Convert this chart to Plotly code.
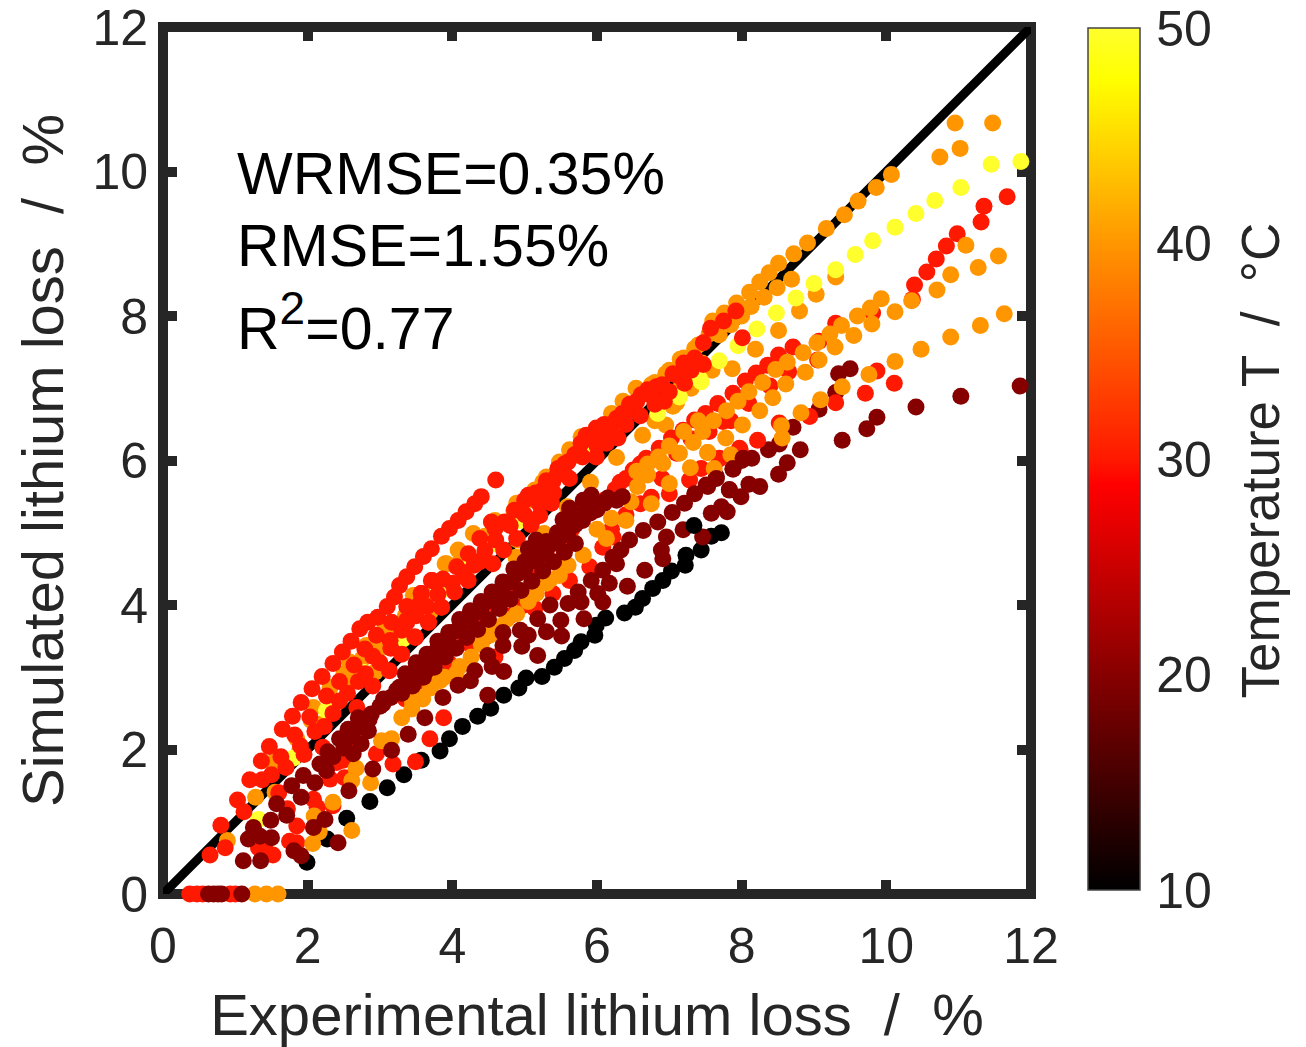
import plotly.graph_objects as go

diag_x = [0, 12]
diag_y = [0, 12]

black_pts = [(7.72,5.00),(7.58,4.95),(7.44,4.76),(7.23,4.69),(7.22,4.55),(7.03,4.47),(6.91,4.34),(6.77,4.23),(6.63,4.09),(6.53,3.97),(6.38,3.89),(6.12,3.82),(5.99,3.72),(5.97,3.58),(5.78,3.49),(5.69,3.37),(5.55,3.26),(5.41,3.14),(5.24,3.01),(5.02,2.99),(4.92,2.85),(4.71,2.75),(4.53,2.57),(4.35,2.46),(4.14,2.32),(3.96,2.15),(3.83,1.98),(3.57,1.85),(3.33,1.65),(3.10,1.47),(2.86,1.28),(2.54,1.05),(2.27,0.76),(1.99,0.44)]
black_extra = [(7.34,5.10)]

orange_top = [(10.95,10.67),(11.47,10.67),(11.02,10.32),(10.74,10.20),(10.07,9.96),(9.86,9.78),(9.61,9.59),(9.42,9.40),(9.17,9.21),(8.91,9.01),(8.72,8.86),(8.51,8.73),(8.38,8.60),(8.25,8.47),(8.11,8.33),(7.93,8.18),(7.76,8.04),(7.60,7.93),(8.69,8.51),(8.49,8.39),(8.31,8.26),(8.13,8.13),(8.0,8.0),(7.85,7.88),(7.69,7.74),(9.30,8.54),(9.03,8.30),(8.80,8.07),(8.51,7.80),(8.19,7.54),(7.87,7.27),(7.59,7.25),(6.54,7.0),(6.36,6.82),(6.20,6.65),(5.78,6.33),(5.62,6.15),(5.48,5.98),(5.30,5.77),(5.14,5.59),(4.89,5.41),(4.59,5.17),(4.29,4.99),(4.08,4.76),(3.92,4.57),(3.46,4.13),(7.40,7.60),(7.20,7.42),(7.0,7.25),(6.8,7.08),(6.27,6.04),(5.91,5.70),(5.59,5.36),(5.27,4.99),(4.88,4.66),(6.63,6.35),(6.95,6.49),(7.3,7.0),(7.1,6.8),(4.90,4.90),(3.90,4.57),(3.48,4.13),(3.69,3.90),(3.07,3.72),(2.81,3.44),(2.95,3.32),(2.93,3.07),(2.58,3.21),(2.61,2.95),(2.31,2.86),(2.08,2.58),(2.17,2.35),(1.89,1.98),(1.52,1.82),(1.55,1.41),(1.28,1.34),(0.89,0.74),(3.27,3.56),
(7.55,7.75),(7.35,7.55),(7.15,7.4),(6.95,7.2),(6.75,7.05),(6.6,6.9),(6.4,6.72),(6.2,6.55),(6.0,6.4),(5.85,6.25),(5.65,6.05),(5.45,5.85),(5.25,5.7),(5.05,5.45),(4.85,5.3),(4.65,5.12),(4.45,4.95),(4.2,4.7),(4.05,4.55),(3.8,4.3),(3.6,4.15),(3.35,3.85),(3.15,3.65),(2.95,3.45),(2.75,3.25),(2.5,3.05),(2.3,2.75),(2.05,2.4),(1.85,2.15),(1.65,1.85),(7.45,7.35),(7.15,7.0),(7.05,6.75),(6.8,6.55)]

yellow_pts = [(11.86,10.14),(11.45,10.10),(11.03,9.78),(10.67,9.60),(10.41,9.42),(10.12,9.23),(9.81,9.04),(9.57,8.85),(9.30,8.64),(9.0,8.45),(8.75,8.25),(8.48,8.04),(8.21,7.82),(7.95,7.59),(7.69,7.38),(7.42,7.13),(7.44,7.09),(7.14,6.88),(6.84,6.65),(5.83,6.12),(5.23,5.45),(4.93,5.17),(4.59,4.85),(4.24,4.53),(3.89,4.22),(3.54,3.86),(3.32,3.53),(2.77,3.07),(2.26,2.54),(1.80,1.88),(1.32,1.03)]

red_top = [(4.60,5.73),(4.40,5.50),(4.31,5.40),(4.19,5.29),(4.08,5.17),(3.96,5.06),(3.85,4.95),(3.71,4.78),(3.60,4.67),(3.48,4.53),(3.37,4.39),(3.27,4.27),(3.20,4.11),(3.10,3.98),(2.97,3.83),(2.83,3.76),(2.72,3.67),(2.60,3.50),(2.48,3.35),(2.35,3.19),(2.20,3.01),(2.06,2.84),(1.91,2.65),(1.79,2.46),(1.65,2.28),(1.47,2.04),(1.36,1.84),(1.20,1.58),(1.03,1.30),(0.80,0.95),(0.65,0.54),
(1.37,1.58),(1.12,1.14),(0.86,0.64),(1.63,1.90),(1.82,2.20),(2.03,2.45),(2.23,2.32),(2.44,2.67),(2.26,2.74),(2.44,2.94),(2.70,2.94),(2.64,3.17),(2.90,3.29),(2.79,3.39),(3.14,3.51),(2.95,3.58),(3.37,3.76),(3.16,3.76),(3.37,3.98),(3.55,4.02),(3.57,4.16),(3.67,3.76),(3.85,3.97),(3.49,3.55),(3.30,3.32),(3.13,3.09),(2.90,2.88),(2.68,2.58),(1.95,1.93),(3.72,4.34),
(7.92,8.07),(7.75,7.93),(7.57,7.83),(7.47,7.63),(8.01,7.70),(7.47,7.33),(7.35,7.42),(7.21,7.07),(7.30,7.25),(7.10,7.18),(6.93,6.82),(6.82,7.02),(6.61,6.91),(6.50,6.70),(6.27,6.58),(6.29,6.31),(5.99,6.45),(6.13,6.24),(5.78,6.24),(5.99,6.05),(5.69,6.08),(5.46,5.89),(5.62,5.75),(5.39,5.71),(5.25,5.59),(5.05,5.52),(4.86,5.31),(5.37,5.41),(5.21,5.24),(5.09,5.11),(4.89,4.92),(4.71,4.76),(4.54,5.15),(4.72,5.15),(4.38,4.92),(4.59,5.06),(4.22,4.71),(4.38,4.60),(4.56,4.57),(4.06,4.53),(3.87,4.36),(3.71,4.34),(4.22,4.34),(4.03,4.18),(3.85,3.97),(3.57,4.16),(3.67,3.76),(3.48,3.56),(3.37,3.79),(6.45,6.78),(6.70,6.98),(6.10,6.50),(5.85,6.35),(5.55,5.95),
(5.0,5.45),(5.15,5.55),(5.3,5.72),(5.45,5.8),(5.6,5.98),(5.75,6.12),(5.9,6.3),(6.05,6.42),(6.2,6.5),(6.35,6.65),(6.55,6.82),(6.75,6.9),(6.9,7.05),(7.05,7.2),(7.2,7.35),(6.0,6.2),(6.2,6.38),(6.4,6.5),(6.6,6.62),(6.8,6.78),(7.0,6.95),(5.8,6.05),(5.55,5.82),(5.4,5.55),(5.2,5.4),(5.0,5.25),(4.8,5.1),(4.6,4.9),(4.45,4.75),(4.3,4.55),(4.15,4.45),(4.0,4.3),(3.8,4.15),(3.65,3.98),(3.5,3.85),(3.3,3.65),(3.15,3.4),(3.0,3.2),(2.8,3.05),(2.55,2.78),(2.35,2.5),(2.1,2.25),(1.9,2.05),(1.7,1.75),(1.5,1.65)]

dark_low = [(11.85,7.03),(11.03,6.89),(10.41,6.74),(9.87,6.60),(9.73,6.44),(9.39,6.28),(9.50,7.27),(9.34,7.20),(9.30,6.94),(9.07,6.71),(8.71,6.46),(8.52,6.23),(8.37,6.15),(8.14,6.03),(8.0,6.0),(7.88,5.88),(7.65,5.78),(7.51,5.66),(8.81,6.15),(8.63,5.97),(8.51,5.81),(8.25,5.64),(8.10,5.67),(7.83,5.60),(7.99,5.50)]

red_mid = [(11.67,9.65),(11.35,9.52),(11.31,9.30),(10.98,9.14),(10.83,8.97),(10.69,8.79),(10.56,8.61),(10.39,8.43),(10.36,8.23),(9.81,8.04),(9.30,7.90),(9.07,7.65),(8.71,7.57),(8.51,7.46),(8.36,7.32),(8.20,7.21),(8.05,7.10),(7.88,6.93),(7.67,6.79),(7.50,6.65),(7.35,6.56),(7.19,6.42),(7.03,6.31),(6.86,6.17),(6.68,6.03),(6.50,5.87),
(10.11,7.07),(9.87,7.24),(9.71,6.93),(9.30,6.80),(8.94,6.61),(8.52,6.52),(8.22,6.28),(7.98,6.15),(7.69,6.02),(9.05,7.39),(8.65,7.23),(8.39,7.03),(8.10,6.79),(7.74,6.54),(7.44,5.89),(7.69,6.03),(7.97,6.17),(7.28,5.73),(7.00,5.54),(6.75,5.49),(6.22,4.94),(6.08,4.80),(5.90,4.53),(5.62,4.34),(5.39,4.16),(5.14,3.95),(4.59,3.28),
(3.69,2.15),(3.88,2.44),(3.49,1.83),(3.18,1.80),(2.49,1.85),(2.31,1.59),(2.51,1.61),(2.08,1.31),(1.85,0.94),(1.75,0.73),(1.85,0.71),(1.32,0.64),(1.52,0.54),(1.41,0.62),(2.21,2.03),(2.40,1.82),(2.95,1.94),(2.13,1.20),(2.35,1.22),(1.72,1.18),(1.60,1.40),(2.55,2.10),(3.35,2.70),(3.55,2.95),(3.95,3.20),(4.25,3.45),(4.45,3.55),(4.80,3.85),(5.00,4.00),(5.70,5.12),(6.32,5.70),
(6.6,5.95),(6.4,5.75),(6.25,5.6),(6.1,5.45),(5.95,5.3),(5.8,5.2),(5.65,5.05),(7.1,6.1),(7.3,6.3),(7.55,6.4),(7.85,6.55),(6.9,5.75),(6.6,5.4),(6.4,5.25),(6.2,5.05),(5.5,4.85),(5.3,4.7),(5.05,4.45),(4.85,4.25),(4.6,4.0),(4.4,3.8),(4.15,3.6),(3.9,3.4),
(0.37,0),(0.47,0),(0.93,0),(0.55,0),(1.0,0)]

orange_mid = [(11.63,8.03),(11.30,7.87),(10.89,7.71),(10.48,7.54),(10.12,7.37),(9.76,7.19),(9.39,7.02),(9.09,6.84),(8.82,6.66),(8.55,6.48),(8.56,6.31),(7.85,6.08),(7.53,6.11),(7.62,5.89),
(11.55,8.83),(11.10,8.98),(11.27,8.67),(10.89,8.57),(10.70,8.36),(10.35,8.21),(10.12,8.06),(9.93,8.24),(9.78,8.11),(9.60,8.00),(9.80,7.89),(9.55,7.73),(9.38,7.87),(9.22,7.75),(9.04,7.63),(9.29,7.57),(9.07,7.39),(8.85,7.49),(8.63,7.36),(8.47,7.26),(8.29,7.08),(8.10,6.95),(7.95,6.82),(7.79,6.69),(7.61,6.55),(7.46,6.40),(8.88,7.22),(8.61,7.06),(8.43,6.87),(8.25,6.69),(8.01,6.49),(7.78,6.31),
(7.00,5.68),(6.70,5.80),(6.56,5.64),(6.75,5.40),(6.47,5.43),(6.40,5.17),(6.13,4.92),(5.81,4.69),(5.48,4.41),(5.16,4.16),(4.89,3.88),(4.52,3.58),(4.26,3.28),(3.83,2.95),(3.57,2.72),(6.91,5.96),(7.14,6.10),(7.33,6.25),(7.29,5.90),(7.53,6.11),
(3.02,2.12),(3.16,2.15),(3.30,2.44),(3.44,2.56),(3.59,2.70),(3.78,2.95),(3.89,3.00),(2.35,1.27),(2.61,0.88),(2.07,0.70),(2.16,0.86),(2.09,1.08),(2.61,1.57),(2.87,1.54),(2.67,1.74),(4.05,3.05),(4.65,3.70),(5.30,4.30),
(7.0,6.2),(6.85,6.05),(6.7,5.95),(6.55,5.85),(7.4,6.55),(7.2,6.4),(6.2,5.2),(6.0,5.05),(5.7,4.85),(5.6,4.55),(5.35,4.35),(5.05,4.05),(4.75,3.8),(4.4,3.45),(4.1,3.15),(3.7,2.85),(3.45,2.65),
(1.27,0),(1.43,0),(1.59,0)]

dark_band = [(3.4,3.00),(3.5,3.11),(3.6,3.20),(3.7,3.32),(3.8,3.41),(3.9,3.50),(4.0,3.62),(4.1,3.69),(4.2,3.78),(4.3,3.88),(4.4,3.95),(4.5,4.06),(4.6,4.13),(4.7,4.26),(4.8,4.32),(4.9,4.43),(5.0,4.50),(5.1,4.61),(5.2,4.67),(5.3,4.77),(5.4,4.85),(5.5,4.94),(5.6,5.01),(5.7,5.11),(5.8,5.17),(5.9,5.27),(6.0,5.32),(6.1,5.41),(6.27,5.45),
(3.3,2.78),(3.45,2.88),(3.6,3.00),(3.75,3.14),(3.9,3.28),(4.05,3.40),(4.2,3.55),(4.35,3.66),(4.5,3.80),(4.65,3.95),(4.8,4.08),(4.95,4.20),(5.1,4.33),(5.25,4.47),(5.4,4.60),(5.55,4.73),(5.7,4.85),
(3.35,3.05),(3.5,3.2),(3.65,3.32),(3.8,3.5),(3.95,3.62),(4.1,3.8),(4.25,3.92),(4.4,4.05),(4.55,4.18),(4.7,4.32),(4.85,4.5),(5.0,4.6),(5.15,4.72),(5.3,4.88),(5.45,5.0),(5.6,5.12),(5.75,5.25),(5.95,5.38),(6.15,5.48),(6.35,5.5),(3.15,2.72),(3.0,2.6),(2.85,2.42),(2.7,2.3),(2.6,2.18),(2.5,2.02),(2.35,1.9),
(3.27,2.86),(3.05,2.70),(2.88,2.49),(2.70,2.44),(2.56,2.28),(2.44,2.15),(2.28,1.97),(2.17,1.80),(2.26,1.71),(2.10,1.54),(1.94,1.64),(1.91,1.34),(1.78,1.50),(1.57,1.25),(1.71,1.09),(1.49,1.02),(1.25,0.92),(1.34,0.80),(1.50,0.78),(1.18,0.76),(1.11,0.46),(1.35,0.46),(1.81,0.60),(1.91,0.53),(2.42,0.71),(2.24,1.03),(2.08,0.92),(2.57,1.43),(2.90,1.73),(3.16,1.99),(3.39,2.21),(3.62,2.44),(2.63,1.94),(2.74,2.08),(2.84,2.26),(3.04,2.63),(3.23,2.82),(3.46,2.95),(3.64,3.09),(3.83,3.28),(3.87,3.46),
(5.92,5.52),(5.81,5.45),(5.62,5.34),(5.53,5.18),(5.16,4.90),(5.05,4.78),
(8.02,6.03),(7.88,5.89),(7.65,5.75),(7.53,5.64),(7.35,5.54),(7.21,5.41),(7.04,5.28),(6.84,5.15),(6.64,5.03),(6.45,4.90),(6.33,4.76),(6.27,4.57),(6.08,4.48),(5.92,4.34),(6.01,4.16),(6.08,4.04),(5.74,4.18),(5.78,4.04),(5.60,4.02),(5.35,4.00),(5.50,3.79),(5.82,3.81),(5.18,3.81),(5.30,3.63),(5.51,3.57),(5.05,3.58),(4.94,3.65),(4.96,3.43),(5.18,3.30),(4.70,3.62),(4.70,3.44),(4.49,3.30),(4.71,3.08),(4.31,3.09),(4.49,2.75),(4.08,2.89),(3.87,2.72),
(7.83,5.59),(7.80,5.29),(7.72,5.36),(7.58,5.27),(7.46,4.94),(7.19,5.04),(6.96,4.94),(6.89,4.76),(6.91,4.64),(6.66,4.48),(6.42,4.26),(6.17,4.30),(6.22,4.66),(4.25,2.95),(4.55,3.15),
(0.63,0),(0.70,0),(0.76,0),(0.81,0),(1.09,0)]

layers = [
    (black_pts, 10), (orange_top, 40), (yellow_pts, 50), (red_top, 30), (dark_low, 20),
    (red_mid, 30), (orange_mid, 40), (dark_band, 20), (black_extra, 10),
]

x_ticks = [0, 2, 4, 6, 8, 10, 12]
y_ticks = [0, 2, 4, 6, 8, 10, 12]
cbar_ticks = [10, 20, 30, 40, 50]

INK = "#262626"
FONT = "Liberation Sans"
CB_X, CB_Y, CB_LEN = 1.0654, 0.0046, 0.994
CB_RIGHT = CB_X + 52 / 868.2
CB_TICK = 10 / 868.2

fig = go.Figure()
fig.add_trace(go.Scatter(x=diag_x, y=diag_y, mode="lines", line=dict(color="black", width=9),
                         showlegend=False, hoverinfo="skip"))
for pts, temp in layers:
    fig.add_trace(go.Scatter(
        x=[p[0] for p in pts], y=[p[1] for p in pts], mode="markers", cliponaxis=False,
        marker=dict(size=17, color=[temp] * len(pts), coloraxis="coloraxis", line=dict(width=0)),
        showlegend=False,
    ))

axis_common = dict(
    range=[0, 12], showgrid=False, zeroline=False, showline=True, linewidth=1, linecolor=INK,
    mirror="ticks", ticks="inside", ticklen=14, tickwidth=10, tickcolor=INK, layer="below traces",
    ticklabeloverflow="allow", automargin=False,
    tickfont=dict(family=FONT, size=50, color=INK),
)

cbar_tick_shapes = [
    dict(type="line", xref="paper", yref="paper", x0=CB_RIGHT - CB_TICK, x1=CB_RIGHT,
         y0=CB_Y + CB_LEN * (t - 10) / 40, y1=CB_Y + CB_LEN * (t - 10) / 40,
         line=dict(color="#444444", width=1.5), layer="above")
    for t in cbar_ticks[1:-1]
]

fig.update_layout(
    width=1306, height=1047, paper_bgcolor="white", plot_bgcolor="white",
    margin=dict(l=163.3, r=274.5, t=27, b=153),
    font=dict(family=FONT),
    xaxis=dict(axis_common, tickvals=x_ticks, ticklabelstandoff=8,
               title=dict(text="Experimental lithium loss  /  %", font=dict(family=FONT, size=58, color=INK), standoff=26)),
    yaxis=dict(axis_common, tickvals=y_ticks, ticklabelstandoff=4,
               title=dict(text="Simulated lithium loss  /  %", font=dict(family=FONT, size=58, color=INK), standoff=10)),
    shapes=[dict(type="rect", xref="paper", yref="paper", x0=0, y0=0, x1=1, y1=1, layer="below",
                 line=dict(color=INK, width=10), fillcolor="rgba(0,0,0,0)")] + cbar_tick_shapes,
    coloraxis=dict(
        cmin=10, cmax=50,
        colorscale=[[0, "rgb(0,0,0)"], [0.25, "rgb(135,0,0)"], [0.47, "rgb(255,0,0)"], [0.5, "rgb(255,25,0)"],
                    [0.75, "rgb(255,150,0)"], [0.94, "rgb(255,255,0)"], [1, "rgb(255,255,45)"]],
        colorbar=dict(
            thickness=52, x=CB_X, xanchor="left", xpad=0, y=CB_Y, yanchor="bottom", ypad=0,
            lenmode="fraction", len=CB_LEN, tickvals=cbar_ticks, ticks="outside", ticklen=6, tickwidth=1,
            tickcolor="rgba(255,255,255,0)", outlinewidth=1.5, outlinecolor="#444444", showticklabels=True,
            tickfont=dict(family=FONT, size=50, color=INK),
        ),
    ),
    annotations=[
        dict(text="WRMSE=0.35%", xref="x", yref="y", x=1.0, y=9.96, xanchor="left", yanchor="middle",
             showarrow=False, font=dict(family=FONT, size=59, color="black")),
        dict(text="RMSE=1.55%", xref="x", yref="y", x=1.0, y=8.97, xanchor="left", yanchor="middle",
             showarrow=False, font=dict(family=FONT, size=59, color="black")),
        dict(text='R<sup><span style="font-size:46px">2</span></sup>=0.77', xref="x", yref="y", x=1.0, y=7.92,
             xanchor="left", yanchor="middle",
             showarrow=False, font=dict(family=FONT, size=59, color="black")),
        dict(text="Temperature T  /  °C", xref="paper", yref="paper", x=1.2643, y=0.5005, xanchor="center",
             yanchor="middle", textangle=-90, showarrow=False, font=dict(family=FONT, size=53, color=INK)),
    ],
)

fig.write_html("out.html", config={"displayModeBar": False},
               post_script="document.body.style.margin='0';document.body.style.overflow='hidden';")
